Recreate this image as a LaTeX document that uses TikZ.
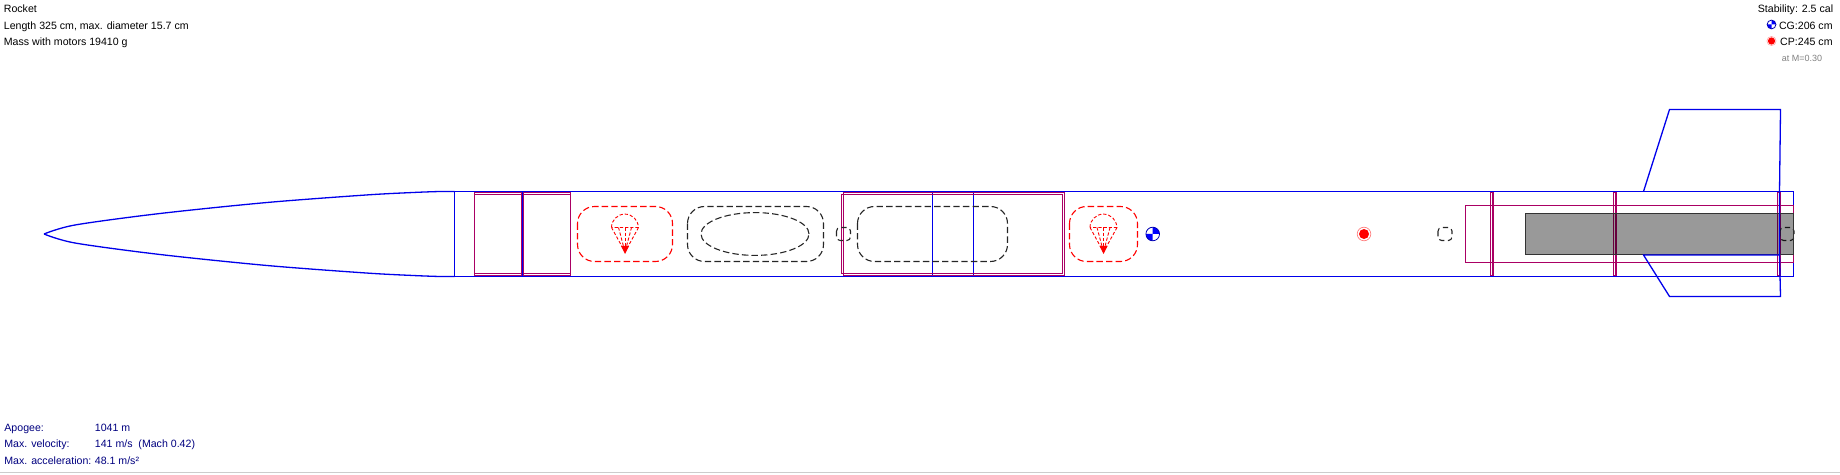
\documentclass[tikz,border=0pt]{standalone}
\usepackage{fontspec}
\setmainfont{Liberation Sans}
\usetikzlibrary{calc}
\definecolor{tubeblue}{RGB}{0,0,235}
\definecolor{innerpurple}{RGB}{170,0,100}
\definecolor{infonavy}{RGB}{0,0,127}
\tikzset{
 bodyline/.style={tubeblue, line width=.65pt},
 innerline/.style={innerpurple, line width=.65pt},
 recovery/.style={red, line width=.55pt, dash pattern=on 3.2pt off 1.6pt, rounded corners=8.5pt},
 chute/.style={red, line width=.45pt, dash pattern=on 1.6pt off 1pt},
 payload/.style={black!85, line width=.55pt, dash pattern=on 3.2pt off 1.6pt},
 caption/.style={anchor=base west, inner sep=0, font=\fontsize{5.3}{6}\selectfont},
 captionr/.style={anchor=base east, inner sep=0, font=\fontsize{5.3}{6}\selectfont},
 flight/.style={caption, text=infonavy},
}
\begin{document}
\begin{tikzpicture}[x=.5pt,y=-.5pt]
\useasboundingbox (0,0) rectangle (1840,475);
\draw[black!20, line width=.6pt] (0,472.5)--(1840,472.5);
% nose
\draw[bodyline] plot[smooth, tension=.5] coordinates {(454.5,191.5) (440,191.5) (413,192.5) (366,195) (267,202.5) (160,213.5) (75,225) (44,234)};
\draw[bodyline] plot[smooth, tension=.5] coordinates {(454.5,276.5) (440,276.5) (413,275.5) (366,273) (267,265.5) (160,254.5) (75,243) (44,234)};
% body
\draw[bodyline] (454.5,191.5) rectangle (1793.5,276.5);
\foreach \x in {522,523,932.5,973.5} {
 \draw[bodyline] (\x,191.5)--++(0,85);
}
% inner tubes
\foreach \xa/\xb in {474.5/521.5, 523.5/570.5} {
 \draw[innerline] (\xa,192.5) rectangle (\xb,275.5);
 \draw[innerline] (\xa,194.5)--(\xb,194.5);
 \draw[innerline] (\xa,273.5)--(\xb,273.5);
}
\draw[innerline] (841.5,194.5) rectangle (1062.5,273.5);
\draw[innerline] (843.5,192.5) rectangle (1064.5,275.5);
\draw[innerline] (1465.5,205.5) rectangle (1793.5,262.5);
\foreach \x in {1490.5,1613.5,1777.5} {
 \draw[innerline] (\x,192.5) rectangle ++(2.5,83);
}
% recovery
\foreach \xa/\xb in {577.5/672.5, 1069.5/1137.5} {
 \draw[recovery] (\xa,206.5) rectangle (\xb,261.5);
 \coordinate (C) at ({(\xa+\xb)/2},0);
 \draw[chute] ($(C)+(-13.5,227.5)$) arc[start angle=180, end angle=0, radius=6.7pt] --++(-26.8,0)--cycle;
 \foreach \d in {-13.5,-6.5,0,6.5,13.5} {
  \draw[chute] ($(C)+(\d,227.5)$)--($(C)+(0,252)$);
 }
 \fill[red] ($(C)+(-4,246)$)--($(C)+(4,246)$)--($(C)+(0,254)$)--cycle;
}
% payload
\draw[payload, rounded corners=8.5pt] (687.5,206.5) rectangle (823.5,261.5);
\draw[payload] (755,234) ellipse[x radius=27pt, y radius=10.7pt];
\draw[payload, rounded corners=8.5pt] (857.5,206.5) rectangle (1007.5,261.5);
\foreach \x in {843.5,1445,1787} {
 \draw[payload, rounded corners=1.8pt, dash pattern=on 2.6pt off 1.8pt] (\x-7,227.5) rectangle (\x+7,240.5);
}
% motor
\fill[black, fill opacity=.4] (1525.5,213.5) rectangle (1793.5,254.5);
\draw[black!80, line width=.6pt] (1525.5,213.5) rectangle (1793.5,254.5);
% fins
\draw[bodyline] (1643.5,191.5)--(1669.5,109.5)--(1780.5,109.5)--(1779.5,191.5);
\draw[bodyline] (1779.5,191.5)--(1779.5,255)--(1643.5,255)--(1669.5,296.5)--(1780.5,296.5)--(1779.5,255);
% markers
\foreach \n/\x/\y/\r in {cg/1152.7/234/3.4pt, cgkey/1771.5/24.5/2.2pt} {
 \fill[white] (\x,\y) circle (\r);
 \fill[blue] (\x,\y) -- ++(\r,0) arc[start angle=0, end angle=90, radius=\r] -- cycle;
 \fill[blue] (\x,\y) -- ++(-\r,0) arc[start angle=180, end angle=270, radius=\r] -- cycle;
 \draw[blue!70!black, line width=.4pt] (\x,\y) circle (\r) coordinate (\n);
}
\draw[red!50, line width=.35pt] (1364,234) circle (3.4pt);
\fill[red] (1364,234) circle (2.5pt) coordinate (cp);
\draw[red!35, line width=.3pt] (1771.5,41) circle (2.3pt);
\fill[red] (1771.5,41) circle (1.8pt) coordinate (cpkey);
% texts
\node[caption] (name) at (3.5,13) {Rocket};
\node[caption] (size) at (3.5,29.5) {Length 325 cm, max. diameter 15.7 cm};
\node[caption] (mass) at (3.5,46) {Mass with motors 19410 g};
\node[captionr] (stability) at (1833.5,13) {Stability: 2.5 cal};
\node[captionr] (cgtext) at (1833,29.5) {CG:206 cm};
\node[captionr] (cptext) at (1833,46) {CP:245 cm};
\node[anchor=base west, inner sep=0, text=black!50, font=\fontsize{4.5}{5}\selectfont] (mach) at (1781.5,61.5) {at M=0.30};
\node[flight] (apogee) at (4,431) {Apogee:};
\node[flight] (apogeev) at (94.5,431) {1041 m};
\node[flight] (velocity) at (4,447.5) {Max. velocity:};
\node[flight] (velocityv) at (94.5,447.5) {141 m/s\ \ (Mach 0.42)};
\node[flight] (accel) at (4,464) {Max. acceleration:};
\node[flight] (accelv) at (94.5,464) {48.1 m/s²};
\end{tikzpicture}
\end{document}
